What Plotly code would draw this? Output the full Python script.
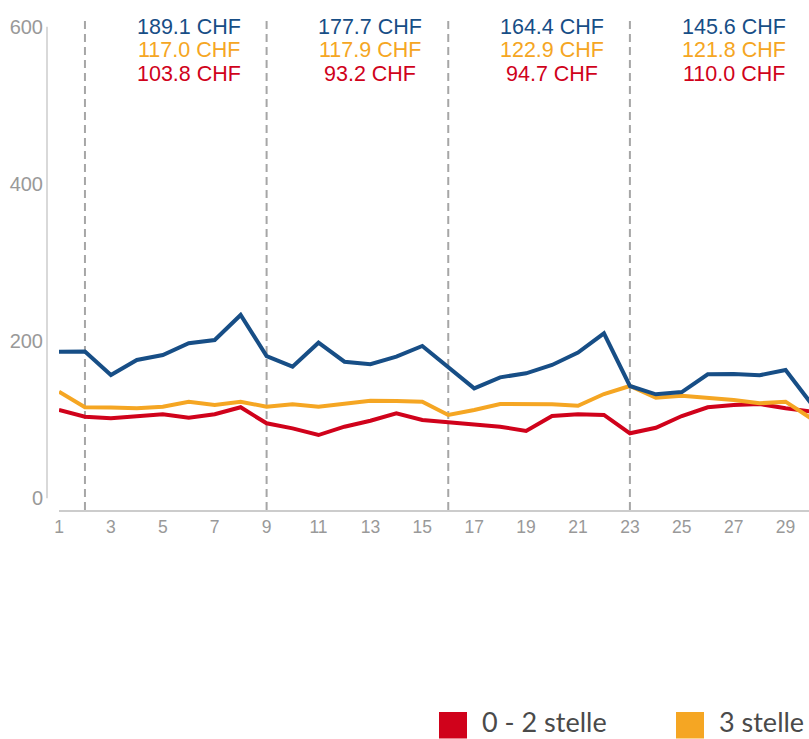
import plotly.graph_objects as go

days = list(range(1, 31))

series_names = ["0 - 2 stelle", "3 stelle", "4 stelle"]
series_colors = ["#d0021b", "#f5a623", "#174e86"]

red_vals = [112.3, 103.8, 101.8, 104.7, 106.9, 102.5, 106.9, 115.8, 95.4, 89.0,
            80.5, 91.1, 98.7, 108.1, 99.6, 96.7, 93.3, 91.1, 85.6, 104.7,
            106.9, 106.0, 82.7, 89.8, 104.7, 115.8, 118.7, 120.0, 114.5, 110.5]
orange_vals = [135.6, 115.8, 115.4, 114.5, 116.5, 122.9, 118.7, 122.9, 116.5, 119.6,
               116.5, 120.0, 124.2, 123.8, 122.9, 106.0, 112.3, 120.0, 119.6, 119.6,
               117.8, 132.7, 142.9, 128.0, 130.5, 128.0, 125.0, 120.9, 122.9, 101.3]
blue_vals = [186.5, 186.8, 156.9, 176.0, 182.3, 197.2, 201.4, 233.2, 181.0, 167.4,
             198.0, 173.8, 170.5, 180.2, 193.8, 167.4, 139.9, 153.9, 159.0, 169.6,
             185.3, 209.9, 142.9, 132.3, 135.2, 157.8, 158.1, 156.5, 163.2, 120.0]

week_starts = [2, 9, 16, 23, 30]
red_avg = [103.8, 93.2, 94.7, 110.0]
orange_avg = [117.0, 117.9, 122.9, 121.8]
blue_avg = [189.1, 177.7, 164.4, 145.6]

y_ticks = [0, 200, 400, 600]
x_ticks = list(range(1, 31, 2))

# page coordinates (body margin removed by post_script)
W, H = 809, 739
PLOT_LEFT, PLOT_TOP, PLOT_BOTTOM = 59, 18, 510
ML = PLOT_LEFT
MT = PLOT_TOP
PW = W - PLOT_LEFT
PH = PLOT_BOTTOM - PLOT_TOP
PX_PER_DAY = 25.95
PX_PER_UNIT = 0.786
ZERO_PX = 498.3


def px_x(px):
    return (px - PLOT_LEFT) / PW


def px_y(py):
    return (PLOT_BOTTOM - py) / PH


fig = go.Figure()

for name, color, vals in [(series_names[0], series_colors[0], red_vals),
                          (series_names[1], series_colors[1], orange_vals),
                          (series_names[2], series_colors[2], blue_vals)]:
    fig.add_trace(go.Scatter(x=days, y=vals, mode="lines", name=name,
                             line=dict(color=color, width=4),
                             showlegend=False, hoverinfo="x+y"))

shapes = []
for ws in week_starts:
    shapes.append(dict(type="line", xref="x", yref="paper", x0=ws, x1=ws, y0=0, y1=1,
                       line=dict(color="#a6a6a6", width=2, dash="8px,5px"), layer="below"))

# y axis line (offset from plot area)
shapes.append(dict(type="line", xref="paper", yref="y", x0=px_x(47), x1=px_x(47),
                   y0=y_ticks[0], y1=y_ticks[-1], line=dict(color="#cccccc", width=1.5)))

annotations = []
line_centers = [26.5, 50, 73.5]
for i in range(4):
    xc = week_starts[i] + 4
    for j, (vals, color) in enumerate([(blue_avg, series_colors[2]),
                                       (orange_avg, series_colors[1]),
                                       (red_avg, series_colors[0])]):
        annotations.append(dict(x=xc, xref="x", y=px_y(line_centers[j]), yref="paper",
                                text=f"{vals[i]:.1f} CHF", showarrow=False,
                                xanchor="center", yanchor="middle",
                                font=dict(family="Arial, Liberation Sans", size=21.5, color=color)))

# custom legend (only the entries that fit in the visible window)
legend_x = [439, 676]
for k in range(len(legend_x)):
    x0 = legend_x[k]
    shapes.append(dict(type="rect", xref="paper", yref="paper",
                       x0=px_x(x0), x1=px_x(x0 + 28), y0=px_y(738.5), y1=px_y(712),
                       fillcolor=series_colors[k], line=dict(width=0)))
    annotations.append(dict(x=px_x(x0 + 42), xref="paper", y=px_y(739), yref="paper",
                            text=series_names[k], showarrow=False, xanchor="left",
                            yanchor="bottom", borderpad=0,
                            font=dict(family="Lato", size=27, color="#4a4a4a")))

y_min = -(PLOT_BOTTOM - ZERO_PX) / PX_PER_UNIT
y_max = y_min + PH / PX_PER_UNIT
x_max = 1 + PW / PX_PER_DAY

fig.update_layout(
    width=W, height=H,
    margin=dict(l=ML, r=0, t=MT, b=H - PLOT_BOTTOM, pad=0),
    paper_bgcolor="white", plot_bgcolor="white",
    showlegend=False,
    shapes=shapes, annotations=annotations,
    xaxis=dict(range=[1, x_max], tickvals=x_ticks, ticktext=[str(t) for t in x_ticks],
               showgrid=False, zeroline=False, showline=True, linecolor="#cccccc", linewidth=1.5,
               ticks="", tickfont=dict(family="Arial, Liberation Sans", size=17.5, color="#999999"),
               ticklabelstandoff=0),
    yaxis=dict(range=[y_min, y_max], tickvals=y_ticks, ticktext=[str(t) for t in y_ticks],
               showgrid=False, zeroline=False, showline=False, ticks="",
               tickfont=dict(family="Arial, Liberation Sans", size=20, color="#999999"),
               ticklabelstandoff=15),
)

fig.write_html("out.html",
               config={"displayModeBar": False},
               post_script="document.body.style.margin='0';document.body.style.overflow='hidden';")
